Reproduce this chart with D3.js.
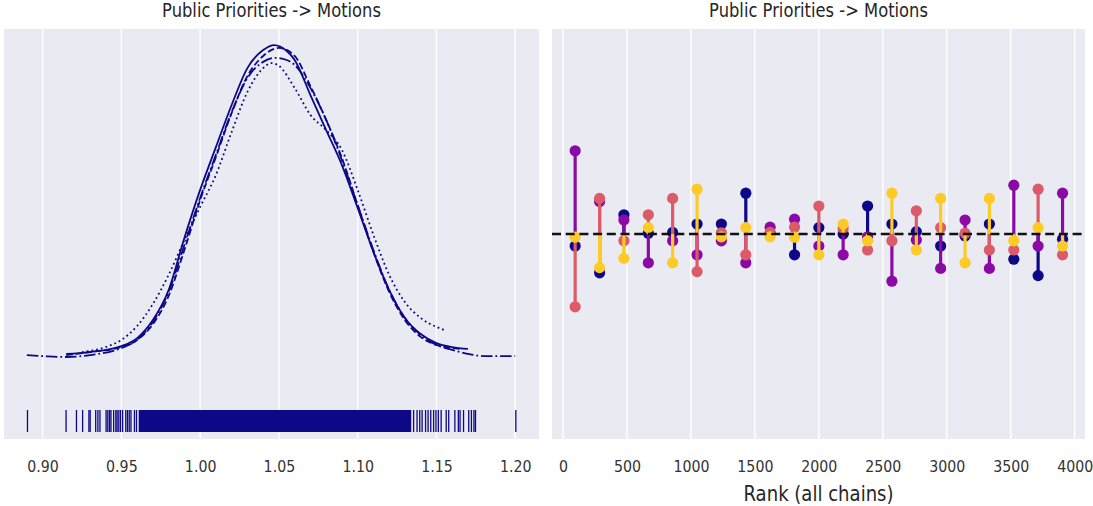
<!DOCTYPE html>
<html>
<head>
<meta charset="utf-8">
<script src="https://cdn.jsdelivr.net/npm/d3@7"></script>
<style>
  body { margin: 0; background: #fff; }
  text { font-family: "DejaVu Sans", sans-serif; fill: #333; }
</style>
</head>
<body>
<div id="chart"></div>
<script>
// ---- data ----
var chainColors = ["#0d0887", "#8b0aa5", "#db5c68", "#fdca26"];
var kdeDash = [null, "6.7,2.9", "11.5,2.9,1.8,2.9", "1.8,3"];

// KDE of each chain: x values and density
var kdeX0 = [0.915, 0.93, 0.95, 0.96, 0.97, 0.98, 0.99, 1.00, 1.01, 1.02, 1.03, 1.04, 1.047, 1.055, 1.06, 1.07, 1.08, 1.09, 1.10, 1.11, 1.12, 1.13, 1.14, 1.15, 1.16, 1.17];
var kdeY0 = [0.10, 0.16, 0.35, 0.61, 1.19, 2.16, 3.84, 5.39, 6.77, 8.13, 9.32, 9.90, 10.06, 9.87, 9.58, 8.45, 7.32, 6.19, 4.81, 3.39, 2.16, 1.26, 0.74, 0.45, 0.32, 0.26];
var kdeX1 = [0.915, 0.93, 0.95, 0.96, 0.97, 0.98, 0.99, 1.00, 1.01, 1.02, 1.03, 1.04, 1.05, 1.06, 1.07, 1.08, 1.09, 1.10, 1.11, 1.12, 1.13, 1.14, 1.15, 1.16, 1.165];
var kdeY1 = [0.06, 0.16, 0.32, 0.55, 1.06, 1.97, 3.45, 5.06, 6.45, 7.87, 9.06, 9.71, 9.97, 9.71, 8.74, 7.65, 6.42, 4.90, 3.39, 2.10, 1.19, 0.65, 0.39, 0.29, 0.26];
var kdeX2 = [0.89, 0.90, 0.915, 0.93, 0.95, 0.96, 0.97, 0.98, 0.99, 1.00, 1.01, 1.02, 1.03, 1.04, 1.047, 1.055, 1.06, 1.07, 1.08, 1.09, 1.10, 1.11, 1.12, 1.13, 1.14, 1.15, 1.16, 1.17, 1.18, 1.19, 1.20];
var kdeY2 = [0.06, 0.03, 0.0, 0.06, 0.29, 0.55, 1.13, 2.10, 3.61, 5.13, 6.52, 7.90, 9.00, 9.52, 9.65, 9.58, 9.42, 8.68, 7.65, 6.35, 4.90, 3.45, 2.16, 1.26, 0.71, 0.39, 0.23, 0.10, 0.03, 0.03, 0.03];
var kdeX3 = [0.925, 0.94, 0.95, 0.96, 0.97, 0.98, 0.99, 1.00, 1.01, 1.02, 1.03, 1.04, 1.045, 1.05, 1.06, 1.07, 1.08, 1.09, 1.10, 1.11, 1.12, 1.13, 1.14, 1.15, 1.155];
var kdeY3 = [0.16, 0.32, 0.55, 1.00, 1.71, 2.65, 3.77, 4.84, 5.87, 7.26, 8.55, 9.32, 9.48, 9.39, 8.68, 7.81, 7.32, 6.68, 5.39, 3.94, 2.65, 1.77, 1.26, 0.97, 0.87];

// rug: sparse tail samples + the dense core interval
var rugTail = [0.8904, 0.9149, 0.9215, 0.9254, 0.9294, 0.9302, 0.9337, 0.9351, 0.9364, 0.9403, 0.9414, 0.9425,
  0.9434, 0.9451, 0.9465, 0.9473, 0.9484, 0.9495, 0.9508, 0.9528, 0.9539, 0.955, 0.9561, 0.9583, 0.9596,
  1.1355, 1.1377, 1.1394, 1.1409, 1.1431, 1.1447, 1.1464, 1.1482, 1.1497, 1.1512, 1.153, 1.1562, 1.1578,
  1.1617, 1.1639, 1.165, 1.1672, 1.1705, 1.1722, 1.1738, 1.1748, 1.2004];
var rugCore = [0.961, 1.134];

// rank plot: bin centres and deviation per chain
var rankBins = [95, 286, 476, 667, 857, 1048, 1238, 1429, 1619, 1810, 2000, 2190, 2381, 2571, 2762, 2952, 3143, 3333, 3524, 3714, 3905];
var rank0 = [-3.0, -9.7, 4.8, 0.2, 0.4, 2.5, 2.5, 10.2, 0.2, -5.2, 1.6, 0.0, 7.0, 2.5, 0.6, -3.0, -0.5, 2.5, -6.3, -10.4, -1.3];
var rank1 = [20.8, 8.1, 3.5, -7.2, -1.7, -5.2, -1.7, -7.2, 1.7, 3.7, -3.0, -5.2, -0.7, -11.8, -1.5, -8.6, 3.5, -8.6, 12.2, -3.0, 10.2];
var rank2 = [-18.2, 8.9, -1.7, 4.8, 8.9, -9.4, 0.3, -5.2, 0.4, 1.7, 7.0, 1.4, -4.0, -1.7, 5.8, 1.6, 0.2, -4.0, -4.0, 11.2, -5.2];
var rank3 = [-0.8, -8.4, -6.1, 1.6, -7.2, 11.2, -0.7, 1.6, -0.7, -0.8, -5.2, 2.5, -1.7, 10.2, -4.0, 8.9, -7.2, 8.9, -1.7, 1.6, -3.0];

var leftTicks = [0.90, 0.95, 1.00, 1.05, 1.10, 1.15, 1.20];
var rightTicks = [0, 500, 1000, 1500, 2000, 2500, 3000, 3500, 4000];
var title = "Public Priorities -> Motions";
var rankLabel = "Rank (all chains)";

// ---- layout ----
var W = 1093, H = 506;
var panelTop = 29, panelBottom = 439;
var leftPanel = { x0: 4, x1: 539 };
var rightPanel = { x0: 552, x1: 1085 };
var squeeze = 0.86; // text in the picture is horizontally compressed

var svg = d3.select("#chart").append("svg")
  .attr("width", W).attr("height", H);

var xL = d3.scaleLinear().domain([0.90, 1.20]).range([42.6, 515.2]);
var yL = d3.scaleLinear().domain([0, 10]).range([357, 47]);
var xR = d3.scaleLinear().domain([0, 4000]).range([563, 1074.7]);
var yR = d3.scaleLinear().domain([0, 10]).range([234, 194]);

function panel(p, xs, ticks, fmt) {
  var g = svg.append("g");
  g.append("rect")
    .attr("x", p.x0).attr("y", panelTop)
    .attr("width", p.x1 - p.x0).attr("height", panelBottom - panelTop)
    .attr("fill", "#eaeaf2");
  g.selectAll(".grid").data(ticks).enter().append("line")
    .attr("x1", d => xs(d)).attr("x2", d => xs(d))
    .attr("y1", panelTop).attr("y2", panelBottom)
    .attr("stroke", "#fff").attr("stroke-width", 1.4);
  var ax = svg.append("g")
    .attr("transform", "translate(0,460)")
    .call(d3.axisBottom(xs).tickValues(ticks).tickFormat(fmt).tickSize(0).tickPadding(0));
  ax.select(".domain").remove();
  ax.selectAll("text")
    .attr("dy", "0.71em")
    .attr("transform", "scale(" + squeeze + ",1)")
    .style("font-size", "16.5px")
    .style("font-family", "DejaVu Sans")
    .style("fill", "#333");
  return g;
}

function label(x, y, size, txt) {
  svg.append("text")
    .attr("transform", "translate(" + x + "," + y + ") scale(" + squeeze + ",1)")
    .attr("text-anchor", "middle")
    .style("font-size", size + "px")
    .style("fill", "#262626")
    .text(txt);
}

panel(leftPanel, xL, leftTicks, d3.format(".2f"));
panel(rightPanel, xR, rightTicks, d3.format("d"));

// titles
label((leftPanel.x0 + leftPanel.x1) / 2, 17, 19, title);
label((rightPanel.x0 + rightPanel.x1) / 2, 17, 19, title);
label((rightPanel.x0 + rightPanel.x1) / 2, 501, 21, rankLabel);

// KDE lines
var kdes = [[kdeX0, kdeY0], [kdeX1, kdeY1], [kdeX2, kdeY2], [kdeX3, kdeY3]];
var line = d3.line().x(d => xL(d[0])).y(d => yL(d[1])).curve(d3.curveMonotoneX);
kdes.forEach(function (k, i) {
  var pts = k[0].map((x, j) => [x, k[1][j]]);
  svg.append("path")
    .attr("d", line(pts))
    .attr("fill", "none")
    .attr("stroke", chainColors[0])
    .attr("stroke-width", 1.8)
    .attr("stroke-dasharray", kdeDash[i]);
});

// rug
var rugY0 = 410, rugY1 = 432;
svg.append("rect")
  .attr("x", xL(rugCore[0])).attr("y", rugY0)
  .attr("width", xL(rugCore[1]) - xL(rugCore[0]))
  .attr("height", rugY1 - rugY0)
  .attr("fill", chainColors[0]);
svg.selectAll(".rug").data(rugTail).enter().append("line")
  .attr("x1", d => xL(d)).attr("x2", d => xL(d))
  .attr("y1", rugY0).attr("y2", rugY1)
  .attr("stroke", chainColors[0]).attr("stroke-width", 1.3);

// rank vlines
var ranks = [rank0, rank1, rank2, rank3];
ranks.forEach(function (r, c) {
  var g = svg.append("g");
  g.selectAll("line").data(r).enter().append("line")
    .attr("x1", (d, i) => xR(rankBins[i])).attr("x2", (d, i) => xR(rankBins[i]))
    .attr("y1", yR(0)).attr("y2", d => yR(d))
    .attr("stroke", chainColors[c]).attr("stroke-width", 3.2);
  g.selectAll("circle").data(r).enter().append("circle")
    .attr("cx", (d, i) => xR(rankBins[i]))
    .attr("cy", d => yR(d))
    .attr("r", 5.6)
    .attr("fill", chainColors[c]);
});

// reference line
svg.append("line")
  .attr("x1", rightPanel.x0).attr("x2", rightPanel.x1)
  .attr("y1", yR(0)).attr("y2", yR(0))
  .attr("stroke", "#111").attr("stroke-width", 2.4)
  .attr("stroke-dasharray", "9,4.7");
</script>
</body>
</html>
